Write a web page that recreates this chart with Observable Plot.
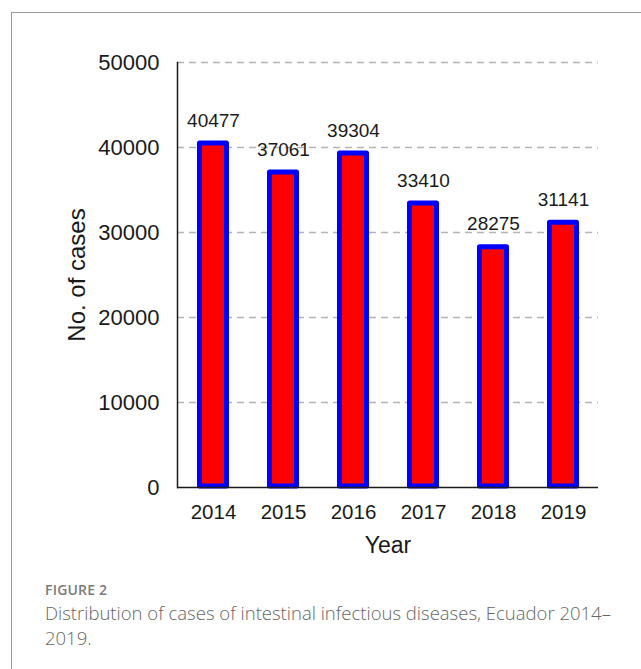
<!DOCTYPE html>
<html>
<head>
<meta charset="utf-8">
<script src="https://cdn.jsdelivr.net/npm/d3@7"></script>
<script src="https://cdn.jsdelivr.net/npm/@observablehq/plot@0.6"></script>
<style>
  html, body { margin: 0; padding: 0; background: #fff; width: 641px; height: 669px; overflow: hidden; }
  #frame { position: absolute; left: 11px; top: 12px; width: 700px; height: 700px; border-left: 1.5px solid #9a9a9a; border-top: 1.5px solid #9a9a9a; box-sizing: border-box; }
  #chart { position: absolute; left: 0; top: 0; }
  #fig { position: absolute; left: 45px; top: 580px; font-family: "Open Sans", sans-serif; font-weight: 600; font-size: 14px; color: #7a7a7a; letter-spacing: 0.2px; }
  #cap { position: absolute; left: 45px; top: 600px; font-family: "Open Sans", sans-serif; font-weight: 300; font-size: 18.5px; line-height: 25px; color: #666; white-space: nowrap; }
</style>
</head>
<body>
<div id="frame"></div>
<div id="chart"></div>
<div id="fig">FIGURE 2</div>
<div id="cap">Distribution of cases of intestinal infectious diseases, Ecuador 2014–<br>2019.</div>
<script>
const years = ["2014", "2015", "2016", "2017", "2018", "2019"];
const cases = [40477, 37061, 39304, 33410, 28275, 31141];
const yTicks = [0, 10000, 20000, 30000, 40000, 50000];
const gridTicks = [10000, 20000, 30000, 40000, 50000];
const xTitle = "Year";
const yTitle = "No. of cases";

const data = years.map((y, i) => ({year: y, value: cases[i]}));
const font = "Liberation Sans, Arial, sans-serif";

const chart = Plot.plot({
  width: 641,
  height: 570,
  marginLeft: 177,
  marginRight: 43,
  marginTop: 62,
  marginBottom: 83,
  style: {fontFamily: font, color: "#1a1a1a", background: "transparent", overflow: "visible"},
  x: {domain: years, paddingInner: 0.544, paddingOuter: 0.272, label: null},
  y: {domain: [0, 50000], label: null},
  marks: [
    Plot.ruleY(gridTicks, {y: d => d, stroke: "#b4b4b4", strokeWidth: 1.5, strokeDasharray: "7,5"}),
    Plot.barY(data, {x: "year", y: "value", fill: "#ff0000", stroke: "#0000ff", strokeWidth: 5, strokeLinejoin: "round", insetLeft: 2.5, insetRight: 2.5, insetBottom: 1}),
    Plot.frame({anchor: "left", stroke: "#1a1a1a", strokeWidth: 1.5}),
    Plot.ruleY([0], {stroke: "#1a1a1a", strokeWidth: 1.5}),
    Plot.axisY(yTicks, {tickSize: 0, tickPadding: 18, fontSize: 22, tickFormat: d => String(d), fill: "#1a1a1a"}),
    Plot.axisX({tickSize: 0, tickPadding: 17, fontSize: 20.5, fill: "#1a1a1a", label: null}),
    Plot.text(data, {x: "year", y: "value", text: d => String(d.value), dy: -23, fontSize: 19, fill: "#1a1a1a"}),
    Plot.text([xTitle], {frameAnchor: "bottom", lineAnchor: "middle", textAnchor: "middle", dy: 58, text: d => d, fontSize: 23, fill: "#1a1a1a"}),
    Plot.text([yTitle], {frameAnchor: "left", textAnchor: "middle", lineAnchor: "middle", dx: -100, rotate: -90, text: d => d, fontSize: 24, fill: "#1a1a1a"})
  ]
});
document.getElementById("chart").appendChild(chart);
</script>
</body>
</html>
